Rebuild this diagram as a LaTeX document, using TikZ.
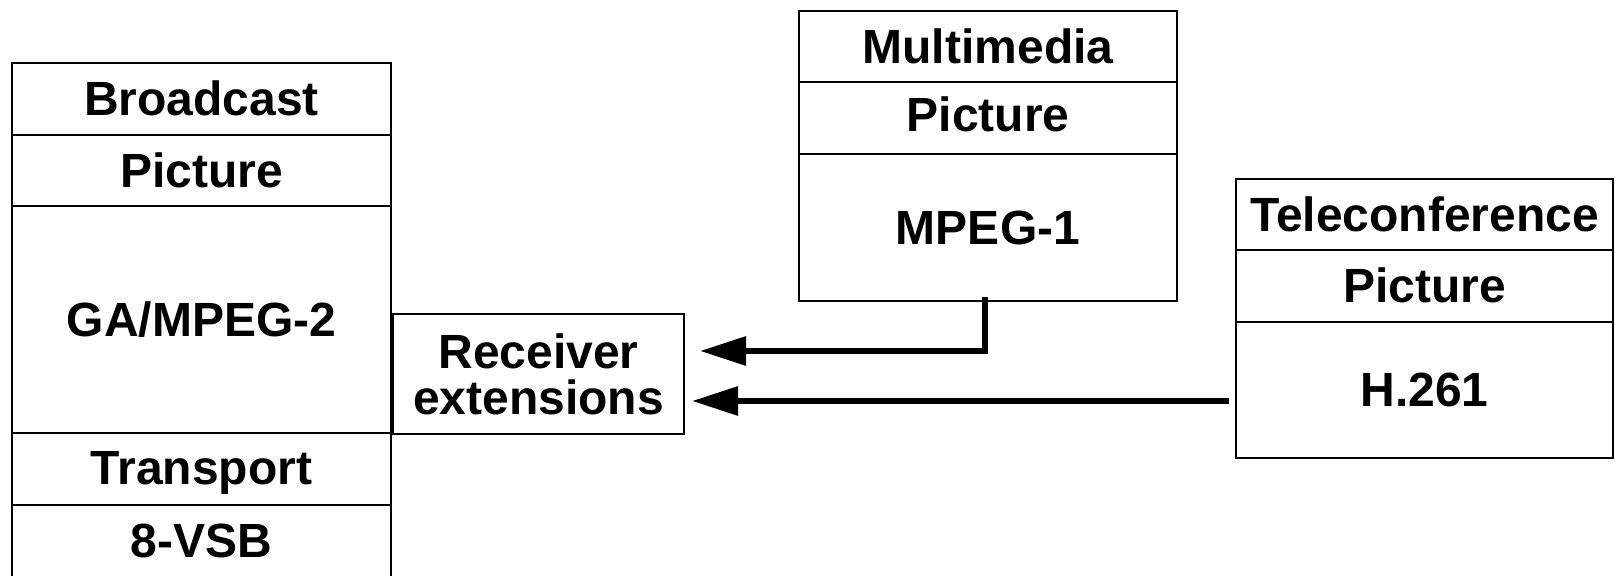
\documentclass[tikz,border=0pt]{standalone}
\usepackage{fontspec}
\setmainfont{Liberation Sans}
\usepackage{tikz}
\usetikzlibrary{arrows.meta, positioning, calc}

\tikzset{
    layer/.style={draw, line width=1pt, inner sep=0pt, outer sep=0pt,
        text height=17pt, text depth=0pt, align=center,
        font=\fontsize{24pt}{23pt}\selectfont\bfseries},
    flow/.style={line width=3pt, -{Triangle[length=23pt, width=14pt]}}
}

\begin{document}
\begin{tikzpicture}
    \useasboundingbox (0, 0) rectangle (807.5pt, 288pt);

    \node[layer, anchor=north west, minimum width=189.5pt, minimum height=36pt] at (6pt, 256.5pt) (bcast) {Broadcast};
    \node[layer, minimum width=189.5pt, minimum height=35.5pt, below=0pt of bcast] (bpic) {Picture};
    \node[layer, minimum width=189.5pt, minimum height=113.5pt, below=0pt of bpic] (mpeg2) {GA/MPEG-2};
    \node[layer, minimum width=189.5pt, minimum height=36pt, text depth=1pt, below=0pt of mpeg2] (trans) {Transport};
    \node[layer, minimum width=189.5pt, minimum height=36pt, below=0pt of trans] (vsb) {8-VSB};

    \node[layer, anchor=north west, minimum width=145.5pt, minimum height=60pt, text height={}, text depth={}] at (196.5pt, 131pt) (recv) {Receiver\\extensions};

    \node[layer, anchor=north west, minimum width=189pt, minimum height=35.5pt] at (399.5pt, 282.5pt) (multi) {Multimedia};
    \node[layer, minimum width=189pt, minimum height=36pt, text depth=3pt, below=0pt of multi] (mpic) {Picture};
    \node[layer, minimum width=189pt, minimum height=73.5pt, below=0pt of mpic] (mpeg1) {MPEG-1};

    \node[layer, anchor=north west, minimum width=188.5pt, minimum height=35.5pt] at (618pt, 198.5pt) (tele) {Teleconference};
    \node[layer, minimum width=188.5pt, minimum height=36pt, below=0pt of tele] (tpic) {Picture};
    \node[layer, minimum width=188.5pt, minimum height=68pt, below=0pt of tpic] (h261) {H.261};

    \draw[flow] ([xshift=-1.75pt, yshift=2pt]mpeg1.south) |- ([xshift=8pt, yshift=11.5pt]recv.east);
    \draw[flow] ([xshift=-3.5pt, yshift=-5.5pt]h261.west) -- ([xshift=4pt, yshift=-13.5pt]recv.east);
\end{tikzpicture}
\end{document}
